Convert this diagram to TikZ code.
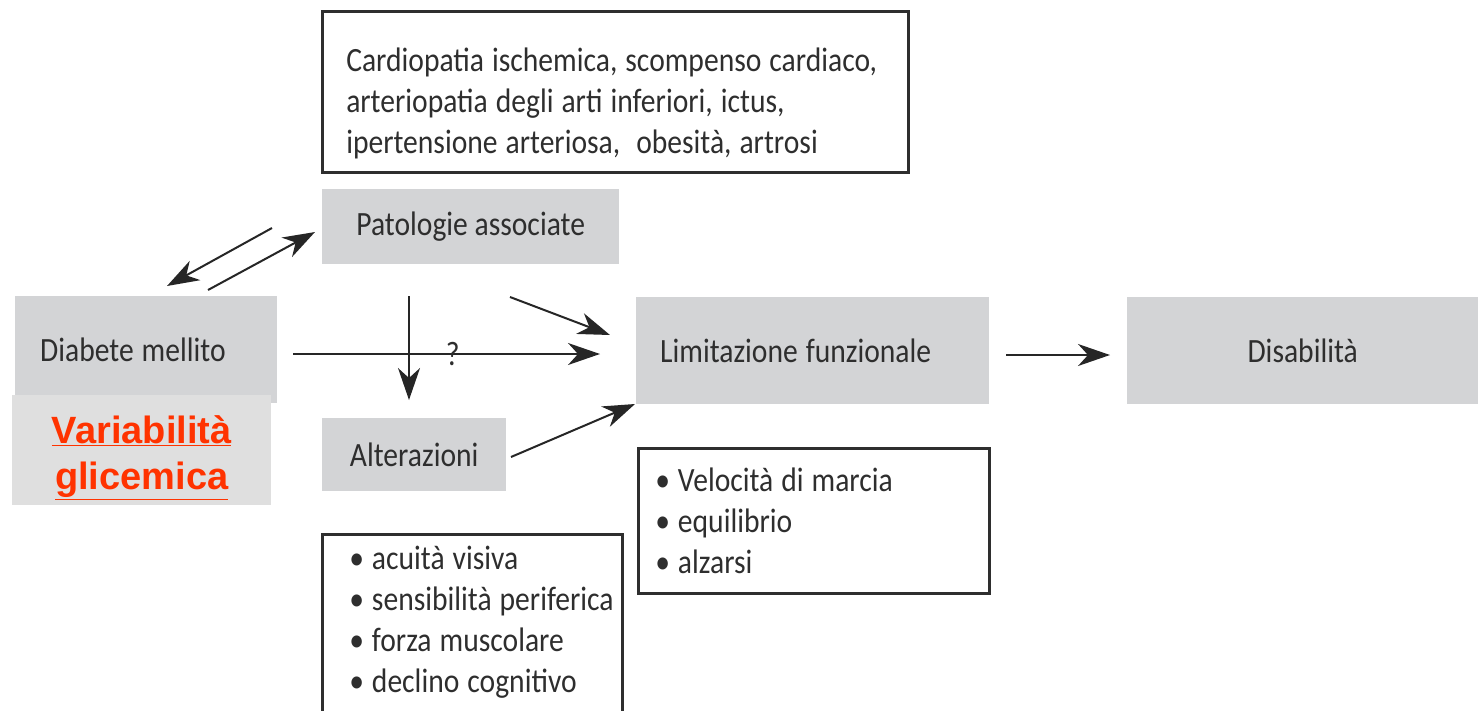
\documentclass[tikz,border=0pt]{standalone}
\usepackage{fontspec}
\setmainfont{Carlito}[FakeStretch=0.87]
\newfontfamily\arialfont{Liberation Sans}
\usetikzlibrary{arrows.meta}
\definecolor{boxgray}{HTML}{D3D4D6}
\definecolor{lightgray}{HTML}{DFDFDF}
\definecolor{inkgray}{HTML}{2E2E2E}
\definecolor{alarmred}{HTML}{FF3300}
\newcommand\tightspace{\spaceskip 8pt\relax}
\tikzset{
  box/.style={fill=boxgray, anchor=north west, inner sep=0pt, text=inkgray},
  frame/.style={draw=inkgray, line width=2.5pt, anchor=north west, inner ysep=0pt,
    align=left, text=inkgray},
  arr/.style={-{Stealth[length=32pt,width=22pt,inset=10pt]}, line width=2pt, draw=black!85},
}
\begin{document}
\begin{tikzpicture}[x=1pt, y=-1pt, font=\fontsize{34}{41}\selectfont]
\useasboundingbox (0,0) rectangle (1478,710);

\node[frame, inner xsep=24pt, text width=538pt, minimum height=161pt] (cause) at (321,10)
  {\tightspace\rule{0pt}{47pt}\mbox{Cardiopatia ischemica, scompenso cardiaco,}\\
   \mbox{arteriopatia degli arti inferiori, ictus,}\\
   \mbox{ipertensione arteriosa,\ \ obesità, artrosi}};
\node[box, minimum width=297pt, minimum height=75pt] (pat) at (322,189) {Patologie associate};
\node[box, minimum width=262pt, minimum height=107pt, inner xsep=25pt, text width=212pt,
  align=left] (dm) at (15,296) {\tightspace Diabete mellito};
\node[box, fill=lightgray, minimum width=259pt, minimum height=110pt, align=center,
  font=\arialfont\bfseries\fontsize{38}{46}\selectfont, text=alarmred] (var) at (12,395)
  {\rule{0pt}{43pt}\underline{Variabilità}\\ \underline{glicemica}};
\node[box, minimum width=184pt, minimum height=73pt] (alt) at (322,418) {Alterazioni};
\node[box, minimum width=353pt, minimum height=107pt, inner xsep=24pt, text width=305pt,
  align=left] (lim) at (636,297) {\tightspace Limitazione funzionale};
\node[box, minimum width=351pt, minimum height=107pt] (dis) at (1127,297) {Disabilità};
\node[frame, inner xsep=17pt, text width=317pt, minimum height=145pt] (func) at (637,447)
  {\tightspace\textbullet\ Velocità di marcia\\ \textbullet\ equilibrio\\ \textbullet\ alzarsi};
\node[frame, inner xsep=27pt, text width=246pt, minimum height=200pt] (sens) at (321,533)
  {\tightspace\mbox{\textbullet\ acuità visiva}\\ \mbox{\textbullet\ sensibilità periferica}\\
   \mbox{\textbullet\ forza muscolare}\\
   \mbox{\textbullet\ declino cognitivo}\rule[-30pt]{0pt}{1pt}};

\coordinate (dmA) at (167,286);
\coordinate (dmB) at (208,290);
\coordinate (patA) at (272,228);
\coordinate (patB) at (315,232);
\draw[arr] (patA) -- (dmA);
\draw[arr] (dmB) -- (patB);
\draw[arr, line width=1.5pt] (409,296) coordinate (patS) -- (409,400) coordinate (altN);
\draw[arr, line width=1.5pt] (293,354) coordinate (dmE) -- (600,354) coordinate (limW)
  node[pos=0.52, inner sep=2pt, text=inkgray] (q) {?};
\draw[arr] (510,297) coordinate (patE) -- (610,335) coordinate (limNW);
\draw[arr] (511,457) coordinate (altE) -- (635,404) coordinate (limSW);
\draw[arr, line width=1.5pt] (1006,355) coordinate (limE) -- (1110,355) coordinate (disW);
\end{tikzpicture}
\end{document}
